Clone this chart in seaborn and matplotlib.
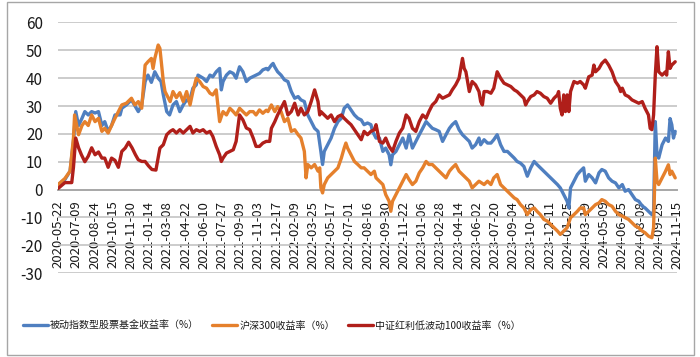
import pandas as pd
import matplotlib
matplotlib.use("Agg")
import matplotlib.pyplot as plt
import seaborn as sns
from matplotlib.lines import Line2D
from matplotlib.patches import Rectangle

# ----- 数据 -----
# 横轴标签：每 32 个交易日一个
TICK_LABELS = [
    "2020-05-22", "2020-07-09", "2020-08-24", "2020-10-15", "2020-11-30",
    "2021-01-14", "2021-03-08", "2021-04-22", "2021-06-10", "2021-07-27",
    "2021-09-09", "2021-11-03", "2021-12-17", "2022-02-09", "2022-03-25",
    "2022-05-17", "2022-07-01", "2022-08-16", "2022-09-30", "2022-11-22",
    "2023-01-06", "2023-02-28", "2023-04-14", "2023-06-02", "2023-07-20",
    "2023-09-04", "2023-10-26", "2023-12-11", "2024-01-25", "2024-03-19",
    "2024-05-09", "2024-06-25", "2024-08-08", "2024-09-25", "2024-11-15",
]
TICK_STEP = 32

SERIES_NAMES = ["被动指数型股票基金收益率（%）", "沪深300收益率（%）", "中证红利低波动100收益率（%）"]
COLORS = ["#4f7fc0", "#e5802c", "#b01f1a"]

# (交易日序号, 收益率%)
passive = [
    (0, 1.8), (12, 3.6), (21, 6.6), (27, 17.3), (31, 28), (36, 23), (42, 25.6), (47, 28), (53, 26.8),
    (59, 28), (65, 27.5), (71, 28), (77, 23), (82, 24.4), (88, 20.9), (94, 23), (100, 26.8), (109, 26.8),
    (112, 29.2), (120, 30.4), (129, 32.2), (141, 28), (147, 30.4), (153, 38.8), (158, 41.1), (164, 38.5),
    (170, 42.3), (176, 40), (181, 38.8), (185, 34), (191, 28), (196, 26.8), (202, 30.4), (208, 31.6),
    (214, 28), (220, 30.4), (226, 32.2), (231, 31.6), (237, 36.4), (243, 37.6), (246, 41.1), (255, 40),
    (261, 38.8), (267, 41.1), (272, 40.5), (278, 42.3), (284, 43.5), (287, 35.8), (290, 38.8), (296, 41.1),
    (302, 42.3), (308, 41.7), (313, 40), (319, 44.1), (325, 42.3), (331, 38.8), (337, 40), (343, 40.6),
    (348, 41.1), (354, 41.7), (360, 43), (366, 43.5), (369, 43), (375, 44.7), (378, 45.3), (381, 44),
    (386, 42.3), (392, 41.1), (398, 39.4), (404, 38.8), (410, 35.2), (416, 32.8), (422, 33.4), (427, 32.2),
    (433, 31.6), (439, 26.8), (445, 24.4), (451, 22), (457, 20.9), (462, 13.7), (465, 9), (468, 13.7),
    (474, 16.1), (480, 18.5), (486, 22), (492, 24.4), (498, 25.6), (503, 29.2), (509, 30.4), (515, 28.6),
    (521, 26.8), (527, 25.6), (533, 25), (538, 23.3), (544, 23.9), (550, 23.3), (553, 20.9), (559, 18.5),
    (565, 18.5), (571, 13.7), (576, 14.9), (582, 12.5), (585, 8.9), (588, 12.5), (594, 13.7), (600, 16.1),
    (606, 18.5), (612, 14.9), (617, 19.7), (623, 14.9), (629, 17.3), (635, 19.7), (641, 22), (647, 24.4),
    (652, 23.3), (658, 22), (664, 21.5), (670, 20.9), (676, 17.3), (682, 19.7), (688, 22), (693, 23.3),
    (699, 24.4), (705, 21.5), (711, 19.7), (717, 18.5), (723, 17.3), (728, 14.9), (734, 16.1), (740, 18.5),
    (743, 16.1), (749, 17.9), (755, 16.7), (761, 16.7), (766, 17.9), (772, 19.7), (778, 16.1), (784, 13.7),
    (790, 13.7), (796, 12.5), (802, 11.3), (807, 10.1), (813, 9.5), (819, 8.3), (825, 4.8), (831, 7.8),
    (837, 10.1), (842, 9), (848, 7.8), (854, 6.6), (860, 5.4), (866, 4.2), (872, 3), (878, 1.8),
    (883, 0.6), (889, -1.8), (895, -4.2), (898, -6.6), (901, 0.6), (907, 3), (913, 5.4), (918, 6.6),
    (924, 7.8), (927, 3), (933, 5.4), (939, 4.2), (945, 2.4), (951, 6), (956, 7.2), (962, 6.6),
    (968, 4.2), (974, 3), (980, 2.4), (986, 0.6), (992, 1.8), (997, -0.6), (1003, 0), (1009, -1.8),
    (1015, -3.6), (1021, -4.2), (1027, -5.9), (1032, -6.6), (1038, -7.8), (1044, -9), (1047, -7.8),
    (1050, 24.4), (1053, 12.5), (1056, 11.3), (1062, 16.1), (1068, 18.5), (1073, 17.3), (1076, 25.5),
    (1079, 23.3), (1082, 18.5), (1085, 20.9),
]

hs300 = [
    (0, 1.8), (12, 4), (21, 6.6), (27, 18.5), (29, 26.8), (36, 19.7), (42, 23), (47, 24.4), (53, 23),
    (59, 26.8), (65, 24.4), (71, 25.6), (77, 20.9), (82, 22), (88, 20.3), (94, 23), (100, 25.6), (106, 28),
    (112, 30.4), (120, 31), (129, 32.8), (135, 30.4), (141, 31.6), (147, 29.2), (153, 44.7), (158, 45.9),
    (164, 47.1), (167, 43.5), (170, 47.1), (176, 51.9), (179, 50.7), (182, 44.7), (185, 38.8), (188, 35.2),
    (191, 34), (197, 31.6), (202, 35.2), (208, 33), (214, 34.8), (220, 31.6), (226, 35.2), (232, 30.4),
    (237, 35.2), (243, 40), (249, 38.8), (255, 37), (261, 36.4), (267, 34.6), (272, 34), (278, 35.8),
    (284, 24.4), (290, 28), (296, 26.8), (302, 29.2), (308, 28), (313, 26.8), (319, 29.2), (325, 28),
    (331, 26.8), (337, 28), (343, 28), (348, 26.8), (354, 28.6), (360, 27.4), (366, 28.5), (369, 28),
    (375, 30.4), (381, 28), (386, 29.8), (392, 28), (398, 24.4), (404, 25.6), (410, 20.9), (416, 21.5),
    (422, 19.7), (427, 18.5), (433, 13.7), (436, 4.2), (439, 9), (445, 7.8), (451, 9), (457, 6.6),
    (460, 7.8), (462, 0.6), (465, -1.2), (468, 1.8), (474, 4.2), (480, 5.4), (486, 6.6), (492, 7.8),
    (498, 11.3), (503, 14.9), (506, 16.7), (509, 14.9), (515, 12.5), (521, 10.1), (527, 9), (533, 7.8),
    (538, 7.8), (544, 6.6), (550, 5.4), (556, 6.6), (559, 4.2), (565, 3), (571, 1.8), (576, -1.8),
    (582, -4.2), (585, -7.8), (588, -4.2), (594, -1.8), (600, 0.6), (606, 3), (612, 5.4), (617, 3.6),
    (623, 1.8), (629, 3), (635, 6), (641, 7.8), (647, 10.1), (652, 9), (658, 9), (664, 7.8), (670, 6.6),
    (676, 5.4), (682, 4.2), (688, 6.6), (693, 7.8), (699, 9), (705, 6.6), (711, 5.4), (717, 4.2),
    (723, 3), (728, 0.6), (734, 1.8), (740, 3), (749, 1.8), (755, 3), (761, 1.8), (766, 4.2), (772, 5.4),
    (778, 1.8), (784, 0.6), (790, -0.6), (796, -1.8), (802, -3), (807, -3.6), (813, -5.4), (819, -6.6),
    (825, -9), (831, -7.2), (837, -6.6), (842, -7.8), (848, -9), (854, -10.7), (860, -11.3), (866, -12.5),
    (872, -13.7), (878, -14.9), (883, -16.1), (889, -14.9), (895, -13.7), (901, -10.1), (907, -9),
    (913, -7.8), (918, -6.6), (924, -6.6), (927, -9), (933, -7.8), (939, -6.6), (945, -5.4), (951, -4.8),
    (956, -3.6), (962, -4.2), (968, -5.4), (974, -6), (980, -7.8), (986, -9), (992, -9.5), (997, -10.1),
    (1003, -10.7), (1009, -11.9), (1015, -13.1), (1021, -13.7), (1027, -14.9), (1032, -15.5),
    (1038, -16.7), (1044, -17.3), (1047, -13.7), (1050, 11.3), (1053, 3), (1056, 1.8), (1062, 4.2),
    (1068, 6.6), (1073, 8.9), (1076, 5.4), (1079, 6.6), (1085, 4.2),
]

dividend = [
    (0, 0.4), (12, 2.5), (24, 2.5), (27, 8), (31, 18.5), (36, 15), (41, 12.5), (47, 10), (53, 12),
    (59, 15), (65, 12.5), (71, 13.5), (77, 11.3), (82, 11.3), (88, 8), (94, 11.3), (100, 10.5), (106, 8),
    (112, 13.7), (118, 14.9), (124, 17), (130, 15), (136, 12.5), (141, 10.7), (147, 10.1), (153, 10.1),
    (159, 8.5), (165, 7.2), (172, 7), (179, 14.9), (185, 16.1), (191, 19.7), (197, 20.9), (202, 21.5),
    (208, 20.3), (214, 21.5), (220, 20.3), (226, 21.5), (232, 22.7), (237, 20.3), (243, 21.5), (249, 20.9),
    (255, 21.5), (261, 20.3), (267, 20.9), (272, 19.1), (278, 15.5), (284, 12.5), (287, 10.1), (290, 11.3),
    (296, 13.1), (302, 13.7), (308, 14.3), (313, 17.3), (319, 26.8), (325, 25), (331, 22.1), (337, 21.5),
    (343, 18.5), (348, 15.5), (354, 15.5), (360, 16.7), (366, 17.3), (372, 17.3), (375, 22), (381, 24.4),
    (386, 26.8), (392, 29.2), (398, 31.6), (404, 26.8), (410, 28), (416, 31), (422, 26.8), (427, 29.2),
    (433, 26.8), (439, 28), (445, 31.6), (451, 35.8), (457, 31.6), (460, 26.8), (462, 28), (468, 26.8),
    (474, 25.6), (480, 26.8), (486, 24.4), (492, 26.2), (498, 26.8), (503, 25.6), (509, 24.4), (515, 23.3),
    (521, 21.5), (527, 19.7), (533, 17.9), (538, 20.9), (544, 19.7), (550, 20.9), (556, 21.5), (559, 23.3),
    (565, 17.3), (571, 16.7), (576, 18.5), (582, 15.5), (588, 13.7), (594, 17.3), (600, 20.3), (606, 22.1),
    (612, 26.8), (617, 25.6), (623, 22), (629, 20.9), (635, 24.4), (641, 26.8), (647, 25.6), (652, 28),
    (658, 30.4), (664, 31.6), (670, 34), (676, 32.8), (682, 33.4), (688, 34), (693, 35.8), (699, 37.6),
    (705, 40), (711, 47.1), (714, 43.5), (717, 42.3), (723, 35.2), (728, 38.8), (734, 37.6), (740, 35.2),
    (743, 31.6), (746, 30.4), (749, 35.2), (755, 35.2), (761, 34.6), (766, 36.4), (772, 42.3), (778, 40),
    (784, 38.2), (790, 37.6), (796, 37), (802, 35.8), (807, 35.2), (813, 34), (819, 32.8), (822, 30.4),
    (825, 31.6), (831, 33.4), (837, 34), (842, 35.2), (848, 34.6), (854, 33.4), (860, 32.8), (866, 31),
    (872, 32.8), (878, 34), (880, 35.2), (883, 29.2), (886, 26.8), (889, 34), (892, 28), (895, 34),
    (898, 28), (901, 35.2), (907, 38.8), (913, 38.2), (918, 38.8), (924, 37.6), (927, 36.4), (933, 40.5),
    (939, 41.1), (942, 44.7), (945, 42.3), (951, 43.5), (956, 45.3), (962, 46.5), (968, 44.7), (974, 42.3),
    (980, 38.8), (986, 37), (989, 35.2), (992, 36.4), (997, 34), (1003, 33.4), (1009, 32.2), (1015, 31.6),
    (1021, 31), (1027, 31.6), (1032, 29.2), (1038, 26.8), (1041, 22), (1044, 21.5), (1047, 26.8),
    (1050, 41.1), (1053, 51.3), (1056, 42.3), (1062, 41.1), (1068, 42.3), (1070, 41.1), (1073, 49.5),
    (1076, 43.5), (1079, 44.7), (1085, 45.9),
]

# ----- 绘图 -----
sns.set_theme(style="white")
plt.rcParams["font.family"] = ["Noto Sans CJK SC", "DejaVu Sans"]
plt.rcParams["axes.unicode_minus"] = False

frames = []
for name, pts in zip(SERIES_NAMES, [passive, hs300, dividend]):
    d, v = zip(*pts)
    frames.append(pd.DataFrame({"day": d, "ret": v, "series": name}))
df = pd.concat(frames, ignore_index=True)

fig = plt.figure(figsize=(7, 3.57), dpi=100)
ax = fig.add_axes([0.083, 0.235, 0.884, 0.702])

sns.lineplot(data=df, x="day", y="ret", hue="series", hue_order=SERIES_NAMES,
             palette=COLORS, linewidth=2.4, estimator=None, sort=False,
             legend=False, ax=ax)

# 横轴放在 0 处（先移动脊线，再设刻度，否则刻度会被重置）
for s in ["left", "right", "top"]:
    ax.spines[s].set_visible(False)
ax.spines["bottom"].set_position(("data", 0))
ax.spines["bottom"].set_color("#a8a8a8")
ax.spines["bottom"].set_linewidth(1.4)
ax.spines["bottom"].set_zorder(1)

ax.set_xlim(0, TICK_STEP * (len(TICK_LABELS) - 1))
ax.set_ylim(-30, 60)
ax.set_yticks(range(-30, 61, 10))
ax.set_xticks([i * TICK_STEP for i in range(len(TICK_LABELS))])
ax.set_xticklabels(TICK_LABELS)
ax.set_xlabel("")
ax.set_ylabel("")

ax.yaxis.grid(True, color="#c3c3c3", linewidth=1.2)
ax.xaxis.grid(False)
ax.set_axisbelow(True)

ax.tick_params(axis="x", length=0, pad=8, labelsize=9.5, labelrotation=90, colors="#1a1a1a")
ax.tick_params(axis="y", length=0, pad=11, labelsize=11, colors="#1a1a1a")

handles = [Line2D([], [], color=c, linewidth=2.4) for c in COLORS]
fig.legend(handles, SERIES_NAMES, loc="center left", bbox_to_anchor=(0.02, 0.087),
           ncol=3, frameon=False, fontsize=7.2, handlelength=2.5,
           handletextpad=0.2, columnspacing=1.3, labelcolor="#1a1a1a")

fig.patches.append(Rectangle((0.01, 0.0056), 0.981, 0.9888, transform=fig.transFigure,
                             fill=False, edgecolor="#a6a6a6", linewidth=1))

fig.savefig("out.png", dpi=100)
